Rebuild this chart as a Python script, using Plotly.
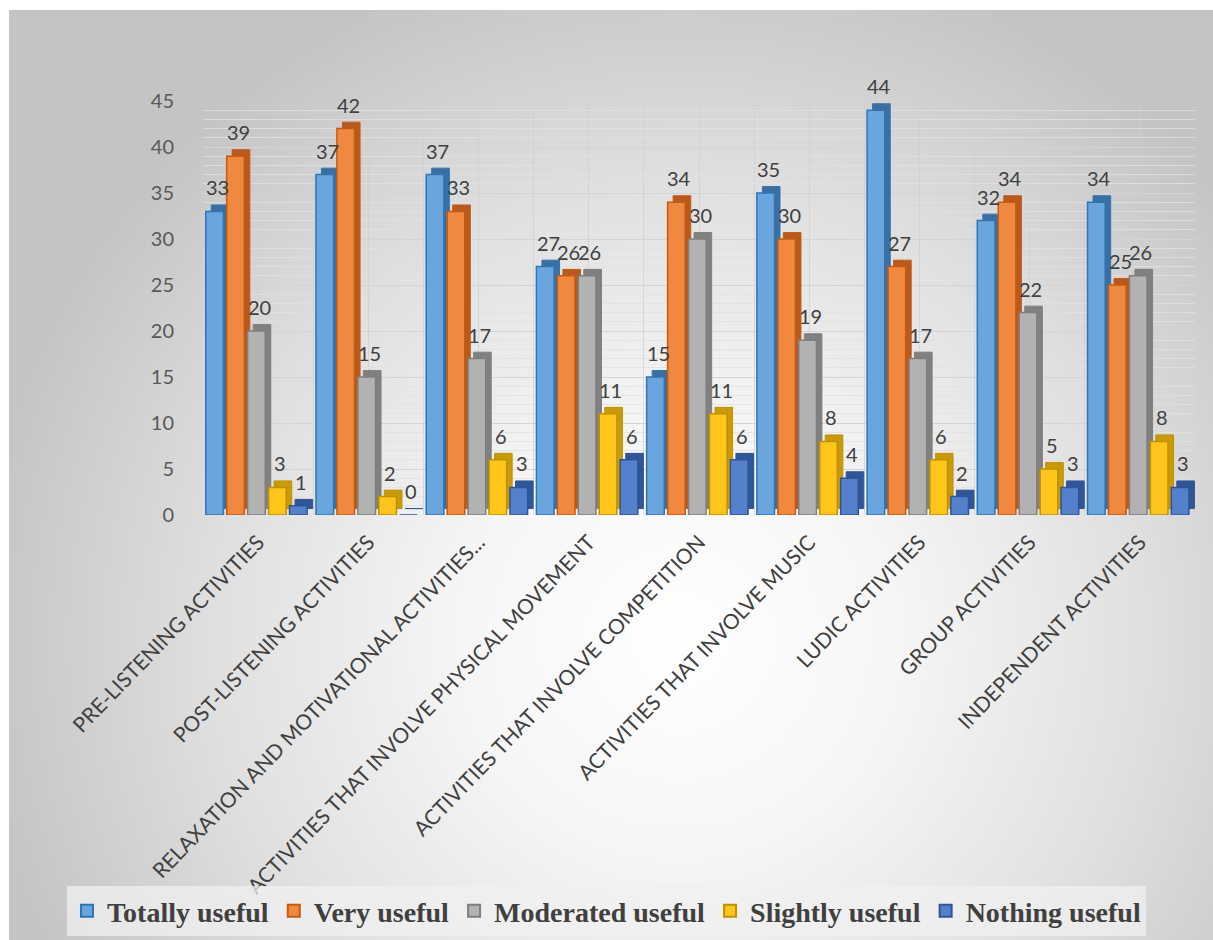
import plotly.graph_objects as go

# ---- data -------------------------------------------------------------
categories = [
    "PRE-LISTENING ACTIVITIES",
    "POST-LISTENING ACTIVITIES",
    "RELAXATION AND MOTIVATIONAL ACTIVITIES...",
    "ACTIVITIES THAT INVOLVE PHYSICAL MOVEMENT",
    "ACTIVITIES THAT INVOLVE COMPETITION",
    "ACTIVITIES THAT INVOLVE MUSIC",
    "LUDIC ACTIVITIES",
    "GROUP ACTIVITIES",
    "INDEPENDENT ACTIVITIES",
]
totally_useful = [33, 37, 37, 27, 15, 35, 44, 32, 34]
very_useful = [39, 42, 33, 26, 34, 30, 27, 34, 25]
moderated_useful = [20, 15, 17, 26, 30, 19, 17, 22, 26]
slightly_useful = [3, 2, 6, 11, 11, 8, 6, 5, 8]
nothing_useful = [1, 0, 3, 6, 6, 4, 2, 3, 3]

series_names = ["Totally useful", "Very useful", "Moderated useful",
                "Slightly useful", "Nothing useful"]
series_values = [totally_useful, very_useful, moderated_useful,
                 slightly_useful, nothing_useful]

# face, outline, side-face colours
face_colors = ["#6aa6dd", "#f0883f", "#b2b2b2", "#ffc51a", "#5580cc"]
edge_colors = ["#2e75b6", "#c55a11", "#7f7f7f", "#bf9000", "#2f5597"]
side_colors = ["#3c6f9f", "#b85a1e", "#808080", "#c99a0a", "#30569a"]

W, H = 1213, 940
x_pos = list(range(len(categories)))

fig = go.Figure()

# ---- radial background shading on a full-page helper subplot -----------
fig.add_trace(go.Scatter(
    x=[-30, 1390, 1390, -30, -30],
    y=[-60, -60, 1340, 1340, -60],
    mode="lines", fill="toself", line=dict(width=0),
    fillgradient=dict(type="radial", colorscale=[
        [0.0, "#ffffff"], [0.3, "#f6f6f6"], [0.65, "#e0e0e0"], [1.0, "#c4c4c4"]]),
    hoverinfo="skip", showlegend=False, xaxis="x", yaxis="y",
))

# ---- bars: a darker side face behind each front face --------------------
slot = 0.19
face_w = 0.16
depth_x = 0.05
depth_y = 0.7
label_font = dict(family="Lato", size=20, color="#404040")
for i, (name, vals) in enumerate(zip(series_names, series_values)):
    off = -0.475 + i * slot
    fig.add_trace(go.Bar(
        x=x_pos, y=vals, base=depth_y, offset=off + depth_x, width=face_w,
        marker=dict(color=side_colors[i], line=dict(color=edge_colors[i], width=1)),
        hoverinfo="skip", showlegend=False, xaxis="x2", yaxis="y2",
    ))
    fig.add_trace(go.Bar(
        x=x_pos, y=vals, offset=off, width=face_w, name=name,
        marker=dict(color=face_colors[i], line=dict(color=edge_colors[i], width=1.5)),
        hoverinfo="skip", xaxis="x2", yaxis="y2",
    ))
    # value labels floating above each bar
    for xp, v in zip(x_pos, vals):
        fig.add_annotation(
            x=xp + off + face_w / 2 + depth_x / 2, y=v, xref="x2", yref="y2",
            text=str(v), showarrow=False, yanchor="bottom", yshift=10,
            font=label_font,
        )

# floor line under the bars
fig.add_shape(type="line", xref="paper", yref="y2",
              x0=150 / W, x1=1200 / W, ysizemode="pixel", yanchor=0,
              y0=-2, y1=-2, line=dict(color="#3f3f3f", width=3), layer="above")

fig.update_layout(
    width=W, height=H,
    margin=dict(l=0, r=0, t=0, b=0, autoexpand=False),
    paper_bgcolor="white",
    plot_bgcolor="rgba(0,0,0,0)",
    barmode="overlay",
    showlegend=True,
    xaxis=dict(domain=[9 / W, 1], range=[9, W], visible=False,
               fixedrange=True, automargin=False),
    yaxis=dict(domain=[0, (H - 10) / H], range=[H, 10], visible=False,
               fixedrange=True, automargin=False),
    xaxis2=dict(
        domain=[203 / W, 1195 / W], range=[-0.5, 8.5], anchor="y2",
        tickvals=x_pos, ticktext=categories, tickangle=-46,
        tickfont=dict(family="Lato", size=21, color="#404040"),
        showgrid=False, zeroline=False, showline=False, ticks="",
        ticklabelstandoff=10, automargin=False,
        minor=dict(tick0=-0.5, dtick=0.5, showgrid=True,
                   gridcolor="rgba(205,205,205,0.7)", gridwidth=1),
        fixedrange=True,
    ),
    yaxis2=dict(
        domain=[(H - 515) / H, (H - 101) / H], range=[0, 45], dtick=5, anchor="x2",
        tickfont=dict(family="Lato", size=20, color="#595959"),
        gridcolor="#d4d4d4", gridwidth=1, zeroline=False, showline=False,
        ticklabelstandoff=28, automargin=False,
        minor=dict(dtick=1, showgrid=True, gridcolor="rgba(225,225,225,0.8)"),
        fixedrange=True,
    ),
    legend=dict(
        orientation="h", x=0.5, xanchor="center", y=(H - 886) / H, yanchor="top",
        bgcolor="rgba(240,240,240,0.75)",
        font=dict(family="Liberation Serif", size=28, color="#404040", weight="bold"),
        itemsizing="constant", tracegroupgap=0,
    ),
)

fig.write_html("out.html")
